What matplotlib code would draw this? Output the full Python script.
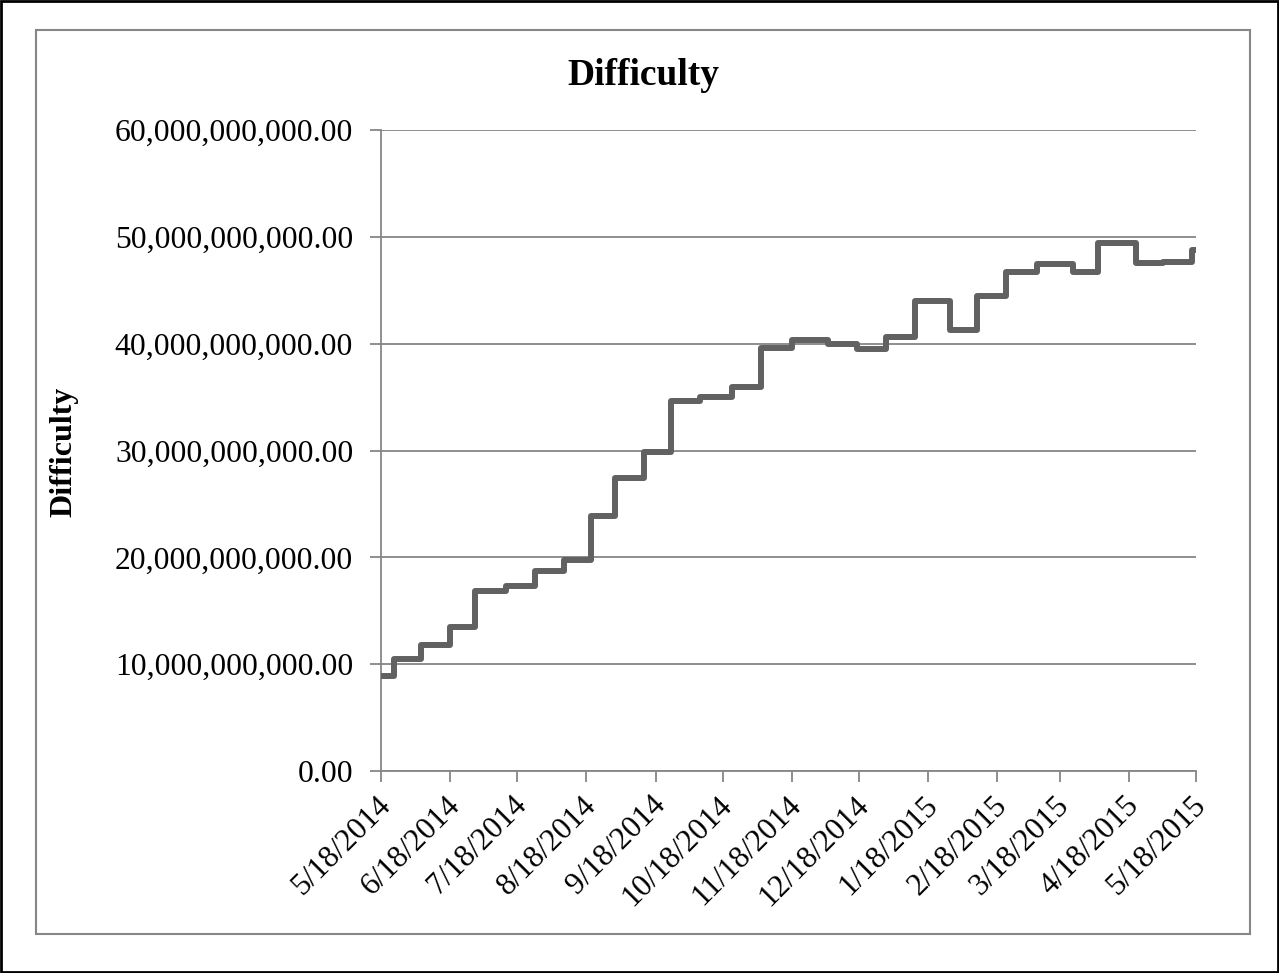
import datetime as dt

import matplotlib
matplotlib.use('Agg')
import matplotlib.pyplot as plt
import matplotlib.dates as mdates
import matplotlib.transforms as mtransforms
from matplotlib.patches import Rectangle
from matplotlib.ticker import FuncFormatter, MultipleLocator

# step changes of difficulty (date the new value starts, value)
change_dates = [
    '2014-05-18', '2014-05-24', '2014-06-05', '2014-06-18', '2014-06-29',
    '2014-07-13', '2014-07-26', '2014-08-08', '2014-08-20', '2014-08-31',
    '2014-09-13', '2014-09-25', '2014-10-08', '2014-10-22', '2014-11-04',
    '2014-11-18', '2014-12-04', '2014-12-17', '2014-12-30', '2015-01-12',
    '2015-01-28', '2015-02-09', '2015-02-22', '2015-03-08', '2015-03-24',
    '2015-04-04', '2015-04-21', '2015-05-03', '2015-05-16', '2015-05-18',
]
difficulty = [
    8.85e9, 10.46e9, 11.76e9, 13.46e9, 16.82e9,
    17.34e9, 18.74e9, 19.73e9, 23.84e9, 27.43e9,
    29.83e9, 34.66e9, 35.00e9, 35.99e9, 39.60e9,
    40.30e9, 40.01e9, 39.46e9, 40.64e9, 43.97e9,
    41.27e9, 44.46e9, 46.68e9, 47.43e9, 46.72e9,
    49.45e9, 47.59e9, 47.64e9, 48.81e9, 48.81e9,
]
tick_dates = [
    '2014-05-18', '2014-06-18', '2014-07-18', '2014-08-18', '2014-09-18',
    '2014-10-18', '2014-11-18', '2014-12-18', '2015-01-18', '2015-02-18',
    '2015-03-18', '2015-04-18', '2015-05-18',
]

dates = [dt.datetime.strptime(d, '%Y-%m-%d') for d in change_dates]
ticks = [dt.datetime.strptime(d, '%Y-%m-%d') for d in tick_dates]

plt.rcParams['font.family'] = ['Liberation Serif', 'DejaVu Serif']
grey = '#868686'

fig = plt.figure(figsize=(12.79, 9.73), dpi=100)
ax = fig.add_axes([381 / 1279, 1 - 771 / 973, (1196 - 381) / 1279, (771 - 130) / 973])

# chart area frame and outer border
fig.patches.append(Rectangle((36 / 1279, 1 - 934 / 973), (1250 - 36) / 1279, (934 - 30) / 973,
                             transform=fig.transFigure, fill=False, edgecolor=grey, linewidth=1.5))
fig.patches.append(Rectangle((0.001, 0.001), 0.998, 0.998, transform=fig.transFigure,
                             fill=False, edgecolor='black', linewidth=2))

ax.plot(dates, difficulty, drawstyle='steps-post', color='#616161', linewidth=4.3,
        solid_joinstyle='round', solid_capstyle='round', zorder=3)

ax.set_xlim(ticks[0], ticks[-1])
ax.set_ylim(0, 60e9)
ax.yaxis.set_major_locator(MultipleLocator(10e9))
ax.yaxis.set_major_formatter(FuncFormatter(lambda v, p: '{:,.2f}'.format(v)))
ax.set_xticks([mdates.date2num(t) for t in ticks])
ax.set_xticklabels([f'{t.month}/{t.day}/{t.year}' for t in ticks])

ax.grid(axis='y', color=grey, linewidth=1.3)
ax.set_axisbelow(True)
for side in ['top', 'right']:
    ax.spines[side].set_visible(False)
for side in ['left', 'bottom']:
    ax.spines[side].set_color(grey)
    ax.spines[side].set_linewidth(1.3)
ax.tick_params(axis='both', direction='out', color=grey, width=1.3, length=8)
ax.tick_params(axis='y', labelsize=22.8, pad=12)
ax.tick_params(axis='x', labelsize=22.5, pad=6)

# nudge rotated date labels a little to the left
shift = mtransforms.ScaledTranslation(-5 / 100, 0, fig.dpi_scale_trans)
for lab in ax.get_xticklabels():
    lab.set_rotation(45)
    lab.set_ha('right')
    lab.set_va('top')
    lab.set_rotation_mode('anchor')
    lab.set_transform(lab.get_transform() + shift)

fig.text(64 / 1279, 1 - 452 / 973, 'Difficulty', fontsize=23, fontweight='bold',
         rotation=90, ha='center', va='center')
fig.text(643 / 1279, 1 - 75 / 973, 'Difficulty', fontsize=27, fontweight='bold',
         ha='center', va='center')

fig.savefig('out.png', dpi=100)
